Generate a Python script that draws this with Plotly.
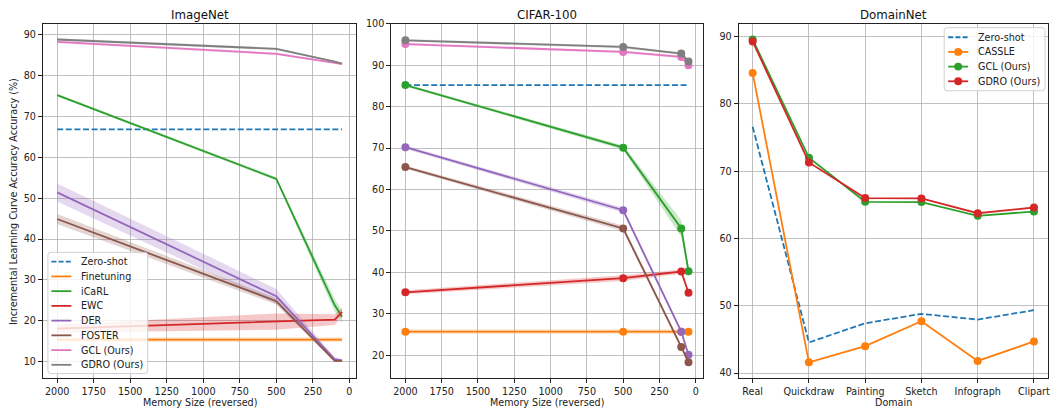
import plotly.graph_objects as go

# ---------------- data ----------------
mem_sizes = [2000, 500, 100, 50]
methods = ["Zero-shot", "Finetuning", "iCaRL", "EWC", "DER", "FOSTER", "GCL (Ours)", "GDRO (Ours)"]
colors = ["#1f77b4", "#ff7f0e", "#2ca02c", "#d62728", "#9467bd", "#8c564b", "#e377c2", "#7f7f7f"]

# ImageNet
in_zero = [66.8, 66.8, 66.8, 66.8]
in_finetune = [15.4, 15.4, 15.4, 15.4]
in_icarl = [75.2, 54.7, 23.8, 21.0]
in_ewc = [18.1, 19.8, 20.3, 22.2]
in_der = [51.4, 26.0, 10.6, 10.3]
in_foster = [44.9, 24.8, 10.2, 10.2]
in_gcl = [88.2, 85.3, 83.1, 82.8]
in_gdro = [88.8, 86.5, 83.4, 82.9]
in_finetune_std = [0.5, 0.5, 0.5, 0.5]
in_icarl_std = [0.3, 0.4, 1.5, 1.5]
in_ewc_std = [1.0, 2.0, 1.3, 1.0]
in_der_std = [2.2, 1.8, 0.5, 0.3]
in_foster_std = [1.2, 0.8, 0.3, 0.2]
in_gcl_std = [0.3, 0.3, 0.2, 0.2]
in_gdro_std = [0.3, 0.3, 0.2, 0.2]

# CIFAR-100
c_zero = [85.2, 85.2, 85.2, 85.2]
c_finetune = [25.7, 25.7, 25.7, 25.7]
c_icarl = [85.2, 70.1, 50.6, 40.3]
c_ewc = [35.2, 38.6, 40.2, 35.1]
c_der = [70.2, 55.0, 25.7, 20.1]
c_foster = [65.4, 50.6, 22.0, 18.3]
c_gcl = [95.1, 93.2, 92.0, 90.0]
c_gdro = [96.0, 94.4, 92.8, 90.9]
c_finetune_std = [0.5, 0.5, 0.5, 0.5]
c_icarl_std = [0.3, 0.5, 2.0, 1.0]
c_ewc_std = [0.5, 0.7, 0.5, 0.4]
c_der_std = [0.4, 0.6, 0.4, 0.3]
c_foster_std = [0.4, 0.7, 0.4, 0.3]
c_gcl_std = [0.3, 0.3, 0.3, 0.3]
c_gdro_std = [0.3, 0.3, 0.3, 0.3]

# DomainNet
domains = ["Real", "Quickdraw", "Painting", "Sketch", "Infograph", "Clipart"]
d_methods = ["Zero-shot", "CASSLE", "GCL (Ours)", "GDRO (Ours)"]
d_zero = [76.6, 44.55, 47.4, 48.8, 47.95, 49.35]
d_cassle = [84.6, 41.6, 44.0, 47.7, 41.8, 44.7]
d_gcl = [89.56, 72.0, 65.45, 65.4, 63.36, 64.0]
d_gdro = [89.27, 71.3, 66.0, 65.95, 63.75, 64.6]

x_ticks = [2000, 1750, 1500, 1250, 1000, 750, 500, 250, 0]

# ---------------- figure ----------------
W, H = 1053, 410
fig = go.Figure()


def rgba(hexc, a):
    h = hexc.lstrip("#")
    return "rgba(%d,%d,%d,%s)" % (int(h[0:2], 16), int(h[2:4], 16), int(h[4:6], 16), a)


def add_band(xa, ya, xs, ys, std, color):
    up = [y + s for y, s in zip(ys, std)]
    lo = [y - s for y, s in zip(ys, std)]
    fig.add_trace(go.Scatter(x=list(xs) + list(xs)[::-1], y=up + lo[::-1], fill="toself",
                             fillcolor=rgba(color, 0.25), line=dict(width=0), mode="lines",
                             hoverinfo="skip", showlegend=False, xaxis=xa, yaxis=ya))


in_series = [in_zero, in_finetune, in_icarl, in_ewc, in_der, in_foster, in_gcl, in_gdro]
in_stds = [None, in_finetune_std, in_icarl_std, in_ewc_std, in_der_std, in_foster_std, in_gcl_std, in_gdro_std]
c_series = [c_zero, c_finetune, c_icarl, c_ewc, c_der, c_foster, c_gcl, c_gdro]
c_stds = [None, c_finetune_std, c_icarl_std, c_ewc_std, c_der_std, c_foster_std, c_gcl_std, c_gdro_std]

dash_zs = "6px,2.6px"
LW = 1.8

for name, ys, sd, col in zip(methods, in_series, in_stds, colors):
    if sd is not None:
        add_band("x", "y", mem_sizes, ys, sd, col)
    fig.add_trace(go.Scatter(x=mem_sizes, y=ys, mode="lines", name=name,
                             line=dict(color=col, width=LW, dash=dash_zs if sd is None else "solid"),
                             showlegend=False, xaxis="x", yaxis="y"))

for name, ys, sd, col in zip(methods, c_series, c_stds, colors):
    if sd is not None:
        add_band("x2", "y2", mem_sizes, ys, sd, col)
        fig.add_trace(go.Scatter(x=mem_sizes, y=ys, mode="lines+markers", name=name,
                                 line=dict(color=col, width=LW), marker=dict(color=col, size=8),
                                 showlegend=False, xaxis="x2", yaxis="y2"))
    else:
        fig.add_trace(go.Scatter(x=mem_sizes, y=ys, mode="lines", name=name,
                                 line=dict(color=col, width=LW, dash=dash_zs),
                                 showlegend=False, xaxis="x2", yaxis="y2"))

fig.add_trace(go.Scatter(x=domains, y=d_zero, mode="lines", name=d_methods[0],
                         line=dict(color=colors[0], width=LW, dash=dash_zs),
                         showlegend=False, xaxis="x3", yaxis="y3"))
for name, ys, col in [(d_methods[1], d_cassle, colors[1]), (d_methods[2], d_gcl, colors[2]),
                      (d_methods[3], d_gdro, colors[3])]:
    fig.add_trace(go.Scatter(x=domains, y=ys, mode="lines+markers", name=name,
                             line=dict(color=col, width=LW), marker=dict(color=col, size=8),
                             showlegend=False, xaxis="x3", yaxis="y3"))

ydom = [(H - 378) / H, (H - 18) / H]
FS = 9.6
tickfont = dict(family="DejaVu Sans", size=FS, color="#222")
axis_common = dict(showline=True, linecolor="#222", linewidth=1, mirror=True,
                   ticks="outside", ticklen=4, tickcolor="#222", tickfont=tickfont,
                   showgrid=True, gridcolor="#b0b0b0", gridwidth=0.8, zeroline=False)

fig.update_layout(
    width=W, height=H, margin=dict(l=0, r=0, t=0, b=0),
    plot_bgcolor="white", paper_bgcolor="white",
    font=dict(family="DejaVu Sans", size=FS, color="#222"),
    xaxis=dict(domain=[43 / W, 357 / W], range=[2097.5, -47.5], tickvals=x_ticks, anchor="y", **axis_common),
    yaxis=dict(domain=ydom, range=[5.9, 92.65], tickvals=list(range(10, 100, 10)), anchor="x", **axis_common),
    xaxis2=dict(domain=[392 / W, 704 / W], range=[2097.5, -47.5], tickvals=x_ticks, anchor="y2", **axis_common),
    yaxis2=dict(domain=ydom, range=[14.4, 100], tickvals=list(range(20, 101, 10)), anchor="x2", **axis_common),
    xaxis3=dict(domain=[740 / W, 1050 / W], range=[-0.25, 5.25], type="category", anchor="y3", **axis_common),
    yaxis3=dict(domain=ydom, range=[39.2, 91.9], tickvals=list(range(40, 91, 10)), anchor="x3", **axis_common),
    showlegend=False,
)

ann = []
shapes = []
title_font = dict(family="DejaVu Sans", size=11.8, color="#111")
label_font = dict(family="DejaVu Sans", size=FS, color="#222")
for cx, t in [((43 + 357) / 2, "ImageNet"), ((392 + 704) / 2, "CIFAR-100"), ((740 + 1050) / 2, "DomainNet")]:
    ann.append(dict(x=cx / W, y=(H - 9) / H, xref="paper", yref="paper", text=t, showarrow=False,
                    font=title_font, xanchor="center", yanchor="middle"))
for cx, t in [((43 + 357) / 2, "Memory Size (reversed)"), ((392 + 704) / 2, "Memory Size (reversed)"),
              ((740 + 1050) / 2, "Domain")]:
    ann.append(dict(x=cx / W, y=(H - 402) / H, xref="paper", yref="paper", text=t, showarrow=False,
                    font=label_font, xanchor="center", yanchor="middle"))
ann.append(dict(x=13 / W, y=(H - 198) / H, xref="paper", yref="paper",
                text="Incremental Learning Curve Accuracy Accuracy (%)", showarrow=False,
                font=label_font, textangle=-90, xanchor="center", yanchor="middle"))


# ------------- custom legends (matplotlib-like compact boxes) -------------
def px(x):
    return x / W


def py(y):
    return (H - y) / H


def rounded_box(x0, y0, x1, y1, r=3):
    p = ("M {a},{b} L {c},{b} Q {x1},{b} {x1},{d} L {x1},{e} Q {x1},{y1p} {c},{y1p} "
         "L {a},{y1p} Q {x0},{y1p} {x0},{e} L {x0},{d} Q {x0},{b} {a},{b} Z").format(
        a=px(x0 + r), b=py(y0), c=px(x1 - r), d=py(y0 + r), e=py(y1 - r), x0=px(x0), x1=px(x1), y1p=py(y1))
    shapes.append(dict(type="path", path=p, xref="paper", yref="paper",
                       fillcolor="rgba(255,255,255,0.8)", line=dict(color="#d0d0d0", width=1), layer="above"))


def legend(x0, y0, x1, y1, first_y, step, names, cols, dashed, markers, lx0, lx1, tx):
    rounded_box(x0, y0, x1, y1)
    for i, (n, c) in enumerate(zip(names, cols)):
        yy = first_y + i * step
        shapes.append(dict(type="line", xref="paper", yref="paper", x0=px(lx0), x1=px(lx1), y0=py(yy), y1=py(yy),
                           line=dict(color=c, width=LW, dash="5px,2.2px" if dashed[i] else "solid"),
                           layer="above"))
        if markers[i]:
            mc = (lx0 + lx1) / 2
            shapes.append(dict(type="circle", xref="paper", yref="paper", x0=px(mc - 4), x1=px(mc + 4),
                               y0=py(yy - 4), y1=py(yy + 4), fillcolor=c, line=dict(color=c, width=0),
                               layer="above"))
        ann.append(dict(x=px(tx), y=py(yy), xref="paper", yref="paper", text=n, showarrow=False,
                        font=label_font, xanchor="left", yanchor="middle"))


legend(48, 250, 148, 373, 259.5, 14.95, methods, colors,
       [True] + [False] * 7, [False] * 8, 51.5, 71.5, 79.5)
legend(946, 22, 1047, 86, 31.7, 14.9, d_methods, colors[:4],
       [True, False, False, False], [False, True, True, True], 950, 970, 977.5)

fig.update_layout(annotations=ann, shapes=shapes)

fig.write_html(
    "out.html",
    config={"displayModeBar": False, "staticPlot": True},
    post_script="document.body.style.margin='0';document.body.style.padding='0';"
                "document.body.style.overflow='hidden';"
                "var d=document.getElementById('{plot_id}');if(d){"
                "d.style.position='absolute';d.style.top='0px';d.style.left='0px';}",
)
